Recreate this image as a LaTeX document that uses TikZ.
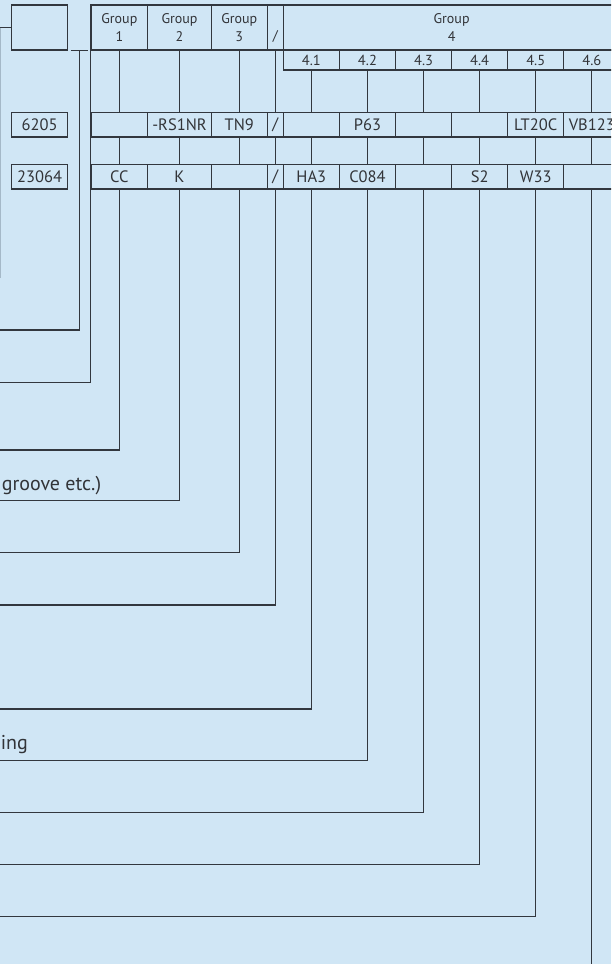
\documentclass[tikz,border=0pt]{standalone}
\usepackage{fontspec}
\setmainfont{PT Sans}
\definecolor{bg}{RGB}{208,230,245}
\definecolor{ln}{RGB}{50,55,62}
\definecolor{fl}{RGB}{165,185,200}
\definecolor{tx}{RGB}{50,52,56}
\begin{document}
\begin{tikzpicture}[x=1pt,y=-1pt,
  line width=1.2pt,
  cellbox/.style={draw=ln, inner sep=0pt, text=tx, align=center},
  hcell/.style={cellbox, minimum height=45pt, font=\fontsize{14}{18.4}\selectfont},
  scell/.style={cellbox, minimum height=20pt, minimum width=56.1pt, font=\fontsize{14.5}{15}\selectfont},
  rcell/.style={cellbox, minimum height=24.4pt, font=\fontsize{16.5}{18}\selectfont},
  gcell/.style={rcell, minimum width=56.1pt},
  lbl/.style={text=tx, inner sep=0pt, font=\fontsize{20}{22}\selectfont},
  conn/.style={draw=ln, line width=1.2pt}]
\path[use as bounding box] (0,0) rectangle (611,964);
\clip (0,0) rectangle (611,964);
\fill[bg] (0,0) rectangle (611,964);

% left boxes
\node[cellbox, minimum width=56.2pt, minimum height=45pt] (topbox) at (39.6,27.5) {};
\node[rcell, minimum width=56.2pt] (b6205) at (39.6,124.85) {6205};
\node[rcell, minimum width=56.2pt] (b23064) at (39.6,176.75) {23064};

% header row
\node[hcell, minimum width=56.7pt] (g1) at (119.35,27.5) {Group\\1};
\node[hcell, minimum width=63.6pt] (g2) at (179.5,27.5) {Group\\2};
\node[hcell, minimum width=56pt] (g3) at (239.3,27.5) {Group\\3};
\node[hcell, minimum width=16pt] (gs) at (275.3,27.5) {\phantom{G}\\/};
\node[hcell, minimum width=336.6pt] (g4) at (451.6,27.5) {Group\\4};

% sub header
\node[scell] (s1) at (311.35,60) {4.1};
\node[scell] (s2) at (367.45,60) {4.2};
\node[scell] (s3) at (423.55,60) {4.3};
\node[scell] (s4) at (479.65,60) {4.4};
\node[scell] (s5) at (535.75,60) {4.5};
\node[scell] (s6) at (591.85,60) {4.6};

% row 1
\node[rcell, minimum width=56.7pt] (a1) at (119.35,124.85) {};
\node[rcell, minimum width=63.6pt] (b1) at (179.5,124.85) {-RS1NR};
\node[rcell, minimum width=56pt] (c1) at (239.3,124.85) {TN9};
\node[rcell, minimum width=16pt] (d1) at (275.3,124.85) {/};
\node[gcell] (e1) at (311.35,124.85) {};
\node[gcell] (f1) at (367.45,124.85) {P63};
\node[gcell] (h1) at (423.55,124.85) {};
\node[gcell] (i1) at (479.65,124.85) {};
\node[gcell] (j1) at (535.75,124.85) {LT20C};
\node[gcell] (k1) at (591.85,124.85) {VB123};

% row 2
\node[rcell, minimum width=56.7pt] (a2) at (119.35,176.75) {CC};
\node[rcell, minimum width=63.6pt] (b2) at (179.5,176.75) {K};
\node[rcell, minimum width=56pt] (c2) at (239.3,176.75) {};
\node[rcell, minimum width=16pt] (d2) at (275.3,176.75) {/};
\node[gcell] (e2) at (311.35,176.75) {HA3};
\node[gcell] (f2) at (367.45,176.75) {C084};
\node[gcell] (h2) at (423.55,176.75) {};
\node[gcell] (i2) at (479.65,176.75) {S2};
\node[gcell] (j2) at (535.75,176.75) {W33};
\node[gcell] (k2) at (591.85,176.75) {};

% free ends
\coordinate (tlA) at (0,27.5);
\coordinate (fA) at (0.4,27.5);
\coordinate (fB) at (0.4,278);
\coordinate (brL) at (70.7,50.7);
\coordinate (brR) at (88.3,50.7);
\coordinate (brM) at (79.3,50.7);
\coordinate (endP) at (0,330);
\coordinate (endT) at (0,382.3);
\coordinate (endA) at (0,450);
\coordinate (endB) at (0,500.7);
\coordinate (endC) at (0,552.7);
\coordinate (endD) at (0,605);
\coordinate (endE) at (0,709);
\coordinate (endF) at (0,760.7);
\coordinate (endH) at (0,812.7);
\coordinate (endI) at (0,864.3);
\coordinate (endJ) at (0,916.7);
\coordinate (endK) at (591.85,980);

% connectors
\draw[conn] (topbox.west) -- (tlA);
\draw[fl, line width=1pt] (fA) -- (fB);
\draw[conn] (brL) -- (brR);
\draw[conn] (brM) |- (endP);
\draw[conn] (g1.north west) |- (endT);

\foreach \h/\r/\s/\e in {g1/a1/a2/endA, g2/b1/b2/endB, g3/c1/c2/endC, gs/d1/d2/endD,
  s1/e1/e2/endE, s2/f1/f2/endF, s3/h1/h2/endH, s4/i1/i2/endI, s5/j1/j2/endJ}{
  \draw[conn] (\h.south) -- (\r.north);
  \draw[conn] (\r.south) -- (\s.north);
  \draw[conn] (\s.south) |- (\e);
}
\draw[conn] (s6.south) -- (k1.north);
\draw[conn] (k1.south) -- (k2.north);
\draw[conn] (k2.south) -- (endK);

% labels
\node[lbl, anchor=base east] (lgroove) at (101.7,490.5) {groove etc.)};
\node[lbl, anchor=base east] (lning) at (28.4,749) {ning};
\end{tikzpicture}
\end{document}
